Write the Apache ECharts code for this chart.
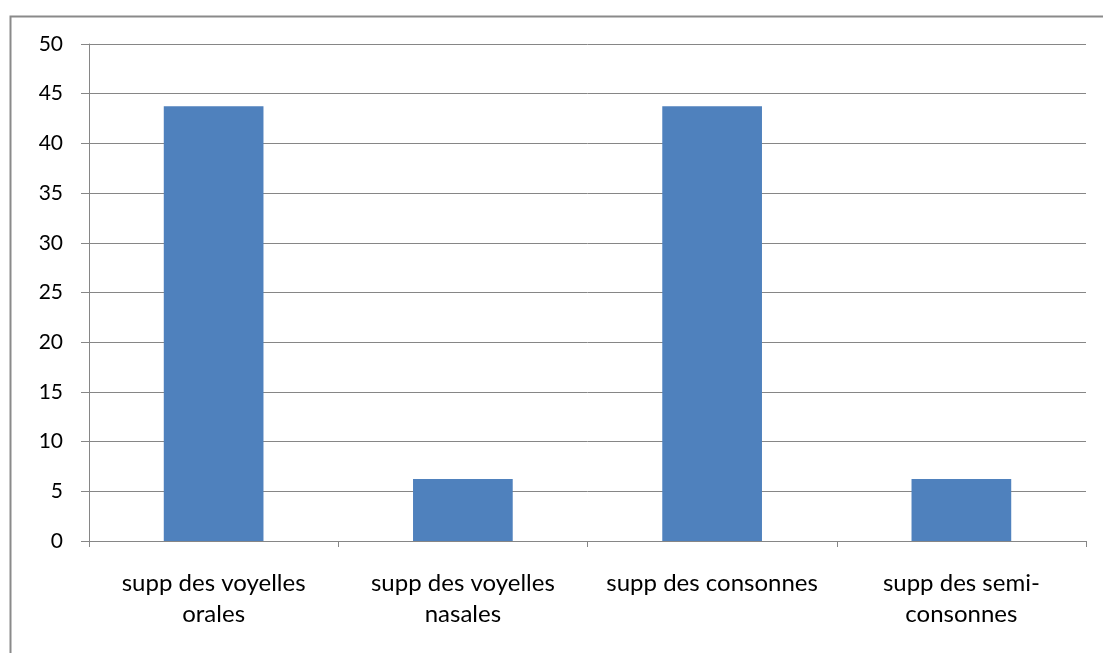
<!DOCTYPE html>
<html>
<head>
<meta charset="utf-8">
<script src="https://cdn.jsdelivr.net/npm/echarts@6/dist/echarts.min.js"></script>
<style>html,body{margin:0;padding:0;background:#fff}#c{width:1103px;height:653px}</style>
</head>
<body>
<div id="c"></div>
<script>
const categories = ["supp des voyelles\norales", "supp des voyelles\nnasales", "supp des consonnes", "supp des semi-\nconsonnes"];
const values = [43.75, 6.25, 43.75, 6.25];
const yTicks = [0, 5, 10, 15, 20, 25, 30, 35, 40, 45, 50];

const chart = echarts.init(document.getElementById('c'));
const font = 'Lato, "Noto Sans", sans-serif';
chart.setOption({
  animation: false,
  graphic: [{
    type: 'rect', left: 8, top: 14, shape: {width: 1200, height: 800},
    style: {fill: 'none', stroke: '#8a8a8a', lineWidth: 2}, silent: true, z: -1
  }],
  grid: {left: 89, right: 17, top: 44, bottom: 112},
  xAxis: {
    type: 'category', data: categories,
    axisLine: {lineStyle: {color: '#868686', width: 1}},
    axisTick: {show: true, interval: 0, length: 6, lineStyle: {color: '#868686'}},
    axisLabel: {interval: 0, hideOverlap: false, color: '#000', fontFamily: font, fontSize: 24, margin: 27, lineHeight: 31}
  },
  yAxis: {
    type: 'value', min: yTicks[0], max: yTicks[yTicks.length - 1], interval: 5,
    axisLine: {show: true, lineStyle: {color: '#868686', width: 1}},
    axisTick: {show: true, length: 8, inside: false, lineStyle: {color: '#868686'}},
    splitLine: {lineStyle: {color: '#868686', width: 1}},
    axisLabel: {color: '#000', fontFamily: font, fontSize: 21, margin: 26}
  },
  series: [{
    type: 'bar', data: values, barWidth: '40%',
    itemStyle: {color: '#4F81BD'}
  }]
});
</script>
</body>
</html>
